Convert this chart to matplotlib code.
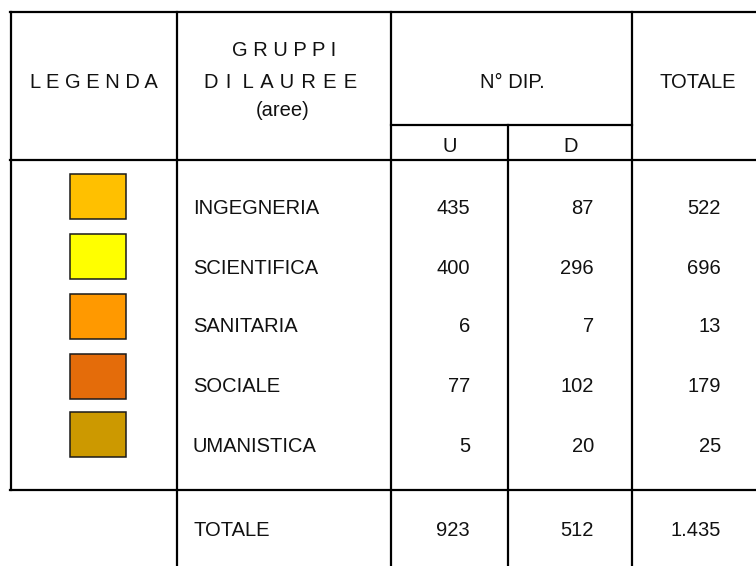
import matplotlib
matplotlib.use("Agg")
import matplotlib.pyplot as plt
from matplotlib.patches import Rectangle

plt.rcParams['font.family'] = ['Liberation Sans', 'DejaVu Sans']

categories = ["INGEGNERIA", "SCIENTIFICA", "SANITARIA", "SOCIALE", "UMANISTICA"]
u_values = [435, 400, 6, 77, 5]
d_values = [87, 296, 7, 102, 20]
tot_values = [522, 696, 13, 179, 25]
total_label = "TOTALE"
total_u = 923
total_d = 512
total_all = "1.435"
colors = ["#FFC000", "#FFFF00", "#FF9900", "#E46C0A", "#CC9900"]

W, H = 756, 566
fig = plt.figure(figsize=(W / 100, H / 100), dpi=100)
ax = fig.add_axes([0, 0, 1, 1])
ax.set_xlim(0, W)
ax.set_ylim(H, 0)
ax.axis('off')

lw = 1.6
k = 'black'
# horizontal lines
ax.plot([10, W], [12, 12], color=k, lw=lw, solid_capstyle='projecting')
ax.plot([391, 632], [124.5, 124.5], color=k, lw=lw)
ax.plot([10, W], [160, 160], color=k, lw=lw)
ax.plot([10, W], [490, 490], color=k, lw=lw)
# vertical lines
ax.plot([11, 11], [12, 490], color=k, lw=lw)
ax.plot([177, 177], [12, H], color=k, lw=lw)
ax.plot([391, 391], [12, H], color=k, lw=lw)
ax.plot([508, 508], [124.5, H], color=k, lw=lw)
ax.plot([632, 632], [12, H], color=k, lw=lw)

fs = 14.5
tc = '#111111'
hs = "\u200a"
def spaced(word, sep=" "):
    return sep.join(word)

# header
ax.text(94, 82, spaced("LEGENDA", " " + hs[:0]), ha='center', va='center', fontsize=fs, color=tc)
ax.text(284, 51, spaced("GRUPPI"), ha='center', va='center', fontsize=fs, color=tc)
ax.text(281, 82, spaced("DI", " " + hs) + "  " + spaced("LAUREE", " " + hs),
        ha='center', va='center', fontsize=fs, color=tc)
ax.text(283, 110, "(aree)", ha='center', va='center', fontsize=fs, color=tc)
ax.text(512, 82, "N° DIP.", ha='center', va='center', fontsize=fs, color=tc)
ax.text(698, 82, "TOTALE", ha='center', va='center', fontsize=fs, color=tc)
ax.text(450, 147, "U", ha='center', va='center', fontsize=fs, color=tc)
ax.text(571, 147, "D", ha='center', va='center', fontsize=fs, color=tc)

# rows
swatch_top = [174, 234, 294, 354, 412]
text_y = [209, 268, 327, 386, 447]
for i, cat in enumerate(categories):
    ax.add_patch(Rectangle((70, swatch_top[i]), 56, 45, facecolor=colors[i],
                           edgecolor='#1a1a1a', lw=1.1))
    ax.text(193, text_y[i], cat, ha='left', va='center', fontsize=fs, color=tc)
    ax.text(470, text_y[i], str(u_values[i]), ha='right', va='center', fontsize=fs, color=tc)
    ax.text(594, text_y[i], str(d_values[i]), ha='right', va='center', fontsize=fs, color=tc)
    ax.text(721, text_y[i], str(tot_values[i]), ha='right', va='center', fontsize=fs, color=tc)

ax.text(193, 531, total_label, ha='left', va='center', fontsize=fs, color=tc)
ax.text(470, 531, str(total_u), ha='right', va='center', fontsize=fs, color=tc)
ax.text(594, 531, str(total_d), ha='right', va='center', fontsize=fs, color=tc)
ax.text(721, 531, total_all, ha='right', va='center', fontsize=fs, color=tc)

fig.savefig("out.png", dpi=100)
